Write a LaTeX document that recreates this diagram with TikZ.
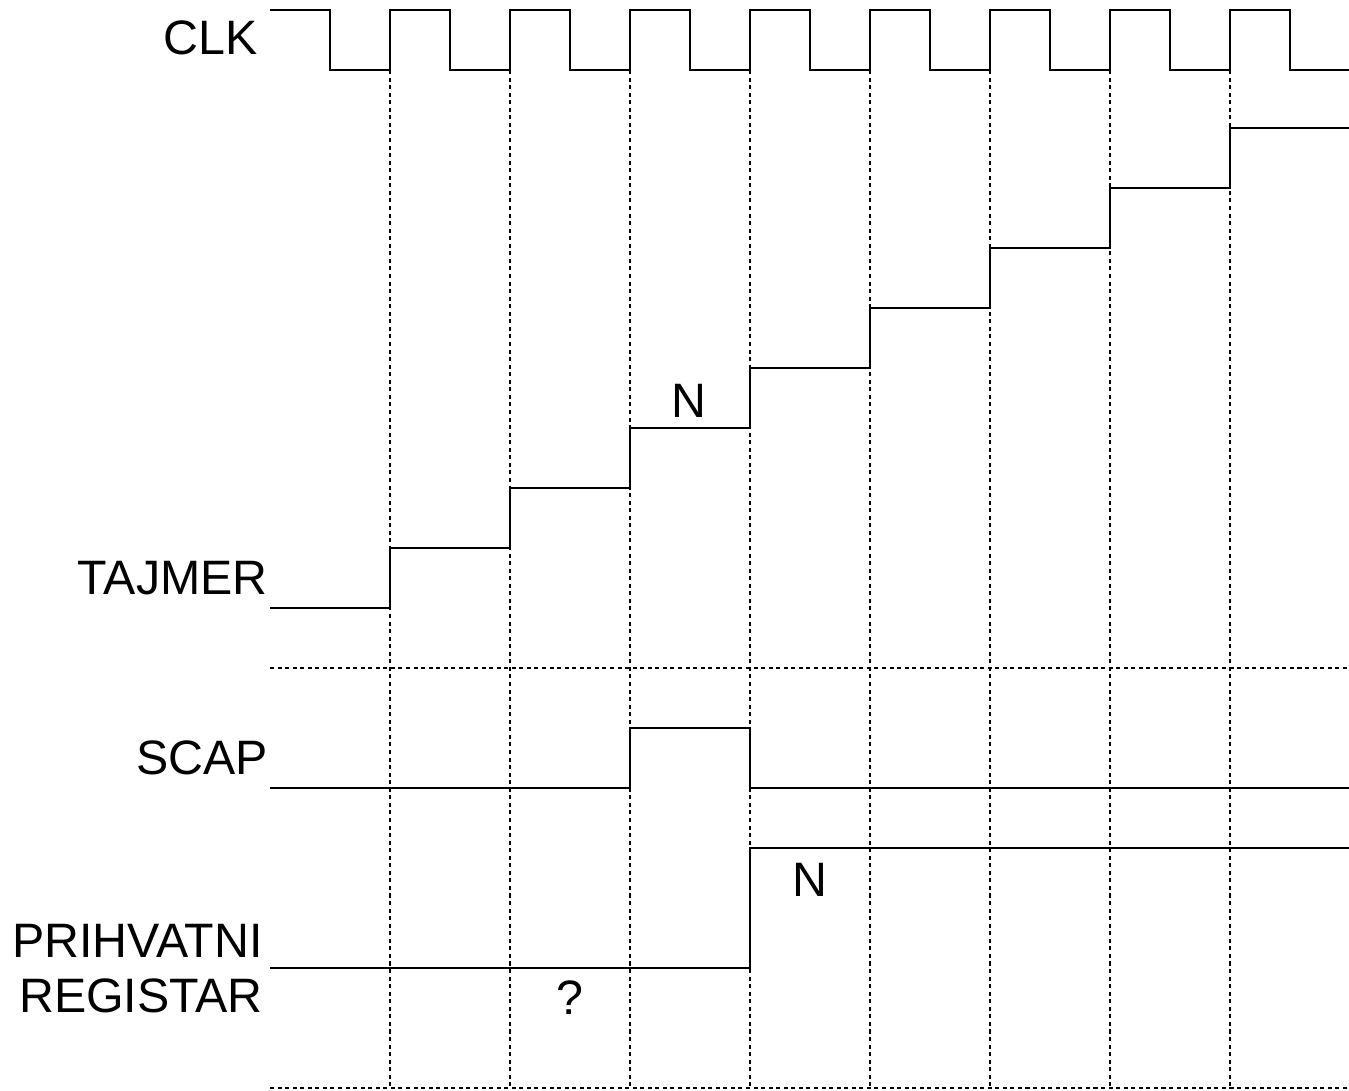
\documentclass[tikz,border=0pt]{standalone}
\usepackage{fontspec}
\setmainfont{Liberation Sans}
\usepackage{tikz}

\begin{document}
\begin{tikzpicture}[x=0.02cm,y=-0.02cm,
  signal/.style={line width=1.2pt},
  grid/.style={line width=0.9pt,dash pattern=on 2.3pt off 2pt},
  lbl/.style={inner sep=0pt,anchor=base east,font=\fontsize{27.5}{33}\selectfont},
  val/.style={inner sep=0pt,anchor=base,font=\fontsize{27.5}{33}\selectfont}]
\useasboundingbox (0,0) rectangle (1349,1090);
% dotted grid
\foreach \x in {390,510,...,1230}
  \draw[grid] (\x,70) -- (\x,1088);
\draw[grid] (270,668) -- (1349,668);
\draw[grid] (270,1088) -- (1349,1088);
% clock
\draw[signal] (270,10) \foreach \x in {330,450,...,1170} {
  -- (\x,10) -- (\x,70) -- (\x+60,70) -- (\x+60,10)} -- (1290,10) -- (1290,70) -- (1349,70);
% timer counts up on each rising edge
\draw[signal] (270,608) \foreach \i in {0,...,7} {
  -- ({390+120*\i},{608-60*\i}) -- ({390+120*\i},{548-60*\i})} -- (1349,128);
% capture strobe
\draw[signal] (270,788) -- (630,788) -- (630,728) -- (750,728) -- (750,788) -- (1349,788);
% capture register
\draw[signal] (270,968) -- (750,968) -- (750,848) -- (1349,848);
% labels
\node[lbl] (clk) at (258,54) {CLK};
\node[lbl] (tajmer) at (268,594) {TAJMER};
\node[lbl] (scap) at (268,774) {SCAP};
\node[lbl] (prihvatni) at (263,957) {PRIHVATNI};
\node[lbl] (registar) at (263,1012) {REGISTAR};
\node[val] (n1) at (689,417) {N};
\node[val] (n2) at (810,896) {N};
\node[val] (q) at (570,1014) {?};
\end{tikzpicture}
\end{document}
